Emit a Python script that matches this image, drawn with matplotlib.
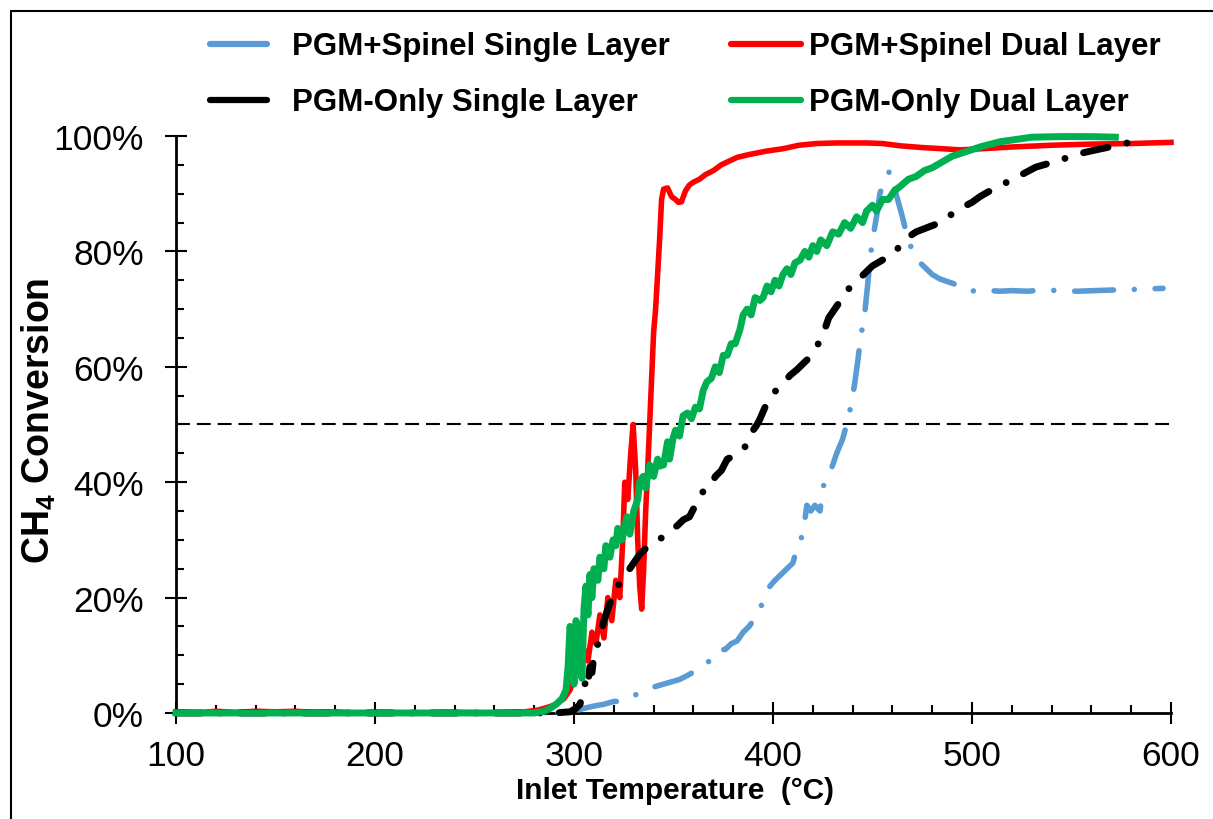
import numpy as np
import matplotlib.pyplot as plt
from matplotlib.lines import Line2D
from matplotlib.patches import Rectangle
from matplotlib.ticker import MultipleLocator, PercentFormatter

# PGM+Spinel Single Layer
blue_t = [100, 200, 295, 300, 305, 310, 315, 320, 323, 327, 330, 333, 337, 340, 345, 350, 353, 357,
          362, 366, 370, 373, 376, 379, 382, 385, 388, 391, 393.5, 396, 398.5, 401, 404, 407, 410, 412,
          415, 417, 419, 421, 423.6, 425, 427, 429, 432, 435, 437, 439, 441, 442.7, 444, 446, 447.5,
          448.7, 450, 452, 453.7, 456, 458.8, 461, 463, 465, 468, 471, 474, 477, 480, 484, 490, 495,
          499, 505, 514, 520, 528, 535, 545, 553, 561, 570, 580, 588, 596]
blue_y = [0, 0, 0, 0.3, 0.8, 1.2, 1.5, 2, 2, 2.5, 3, 3.5, 4, 4.5, 5, 5.5, 5.8, 6.5,
          7.5, 8.5, 9.5, 11, 11, 12, 12.5, 14, 15, 16.5, 18, 20.5, 22, 23, 24, 25, 26, 28.5,
          31, 36, 35, 36, 35, 39, 41, 42, 45, 47.5, 50, 53, 57, 61.3, 65, 69, 74,
          78.5, 82, 86, 90, 92.5, 94, 91, 88.5, 86, 81.8, 79.5, 78, 77, 76, 75.2, 74.5, 73.8,
          73.1, 73.3, 73.1, 73.2, 73.1, 73.3, 73.2, 73.1, 73.2, 73.3, 73.4, 73.5, 73.6]

# PGM+Spinel Dual Layer
red_t = [100, 110, 120, 130, 140, 150, 160, 170, 180, 190, 200, 220, 240, 260, 275, 282, 287, 291,
         295, 298, 300, 301.5, 303, 305, 307, 309, 311, 313, 315, 317, 319, 321, 323, 324.5, 325.5,
         327, 328.5, 329.7, 331, 332, 333, 334, 335, 336, 337, 338, 339, 340, 341, 342, 343, 344,
         345, 347, 349, 351, 352.5, 354, 356, 358, 360, 363, 366, 370, 374, 377, 382, 388, 397,
         405, 413, 422, 432, 447, 455, 464, 475, 485, 494, 505, 520, 540, 560, 580, 600]
red_y = [0.2, 0, 0.3, 0.1, 0.3, 0.2, 0.3, 0.1, 0.2, 0, 0.1, 0, 0.1, 0, 0.2, 0.5, 1, 1.5,
         2.5, 4, 6, 10, 8, 11, 9, 14, 12, 17, 13, 20, 16, 23, 20, 30, 40,
         37, 45, 50, 42, 30, 22, 18, 25, 35, 42, 50, 58, 66, 70, 76, 82, 89,
         90.8, 91, 89.5, 89, 88.5, 88.6, 90.5, 91.5, 92, 92.5, 93.3, 94, 95, 95.5, 96.3, 96.8, 97.4,
         97.8, 98.4, 98.7, 98.8, 98.8, 98.7, 98.3, 98.0, 97.8, 97.6, 97.8, 98.1, 98.4, 98.6, 98.7, 98.9]

# PGM-Only Single Layer
black_t = [100, 200, 290, 298, 301, 303, 305, 306, 307, 308, 309, 310, 312, 313, 315, 316, 318, 320,
           322, 324, 326, 328, 330, 333, 336, 340, 344.7, 348, 352, 355, 358, 361, 363, 365, 368,
           371, 374, 377, 380, 384, 387, 390, 392, 393.5, 396, 400, 403, 406, 408.5, 412, 415, 418,
           421, 423.6, 426, 428, 430, 433, 435, 438, 441, 444, 447, 450, 455, 460, 464, 468, 472,
           478, 484, 490, 495.5, 500, 504, 508, 514, 520, 526, 532, 538, 544, 550, 557, 565, 572, 578]
black_y = [0, 0, 0, 0.2, 0.8, 1.5, 4, 6, 5, 8, 7, 10, 12, 13, 16, 17, 19, 21,
           22, 23, 24, 25, 26, 27.5, 28.5, 29.5, 30.5, 31.5, 32.5, 33.5, 34, 36, 37, 38.5, 39,
           41, 42, 44, 44.5, 45.5, 46.5, 49, 50, 51, 53, 55.3, 56.5, 57.5, 58.5, 59.5, 60.5, 61.5,
           63, 64.5, 66.5, 68.5, 69.5, 71, 72.3, 73.5, 74.5, 75.5, 76.5, 77.5, 78.5, 79.5, 81, 82.5, 83.4,
           84.2, 85, 86.5, 87.7, 88.5, 89.5, 90.3, 91.3, 92.5, 93.5, 94.6, 95.2, 95.8, 96.5, 97.2, 97.8, 98.3, 98.8]

# PGM-Only Dual Layer
green_t = [100, 200, 280, 285, 288, 291, 294, 296, 297, 298, 299, 300, 301, 302, 303, 304, 305, 306,
           307, 308, 309, 310, 312, 313, 315, 316, 318, 319.6, 321, 322, 324, 326.6, 328, 330, 332,
           333, 334.7, 336, 338, 340, 342, 343, 345, 347, 348, 349.7, 351, 353, 354.8, 357, 359, 361,
           363, 365, 366.8, 369, 371, 373, 375, 377, 379, 381, 383.4, 385, 387, 389, 391, 393.5, 395,
           397, 399, 401, 403, 405, 407, 409, 411, 413.6, 416, 418, 420, 422, 424, 427, 430, 433,
           436, 439, 442, 445, 447, 450, 452, 455, 458, 461, 464, 468, 472, 476, 480, 485, 490, 497,
           505, 514, 522, 530, 545, 560, 572]
green_y = [0, 0, 0, 0.3, 0.8, 1.5, 2.5, 4, 8, 15, 12, 5, 16, 14, 8, 6, 18, 22,
           17, 24, 20, 25, 23, 27, 25, 29, 27, 30, 29, 32, 30, 34, 31, 35, 37,
           40, 41, 39, 43, 41, 44, 42.8, 43, 47, 44, 47.5, 49, 48, 51.5, 52, 51, 53,
           52.7, 56, 57.4, 58, 60, 59, 62, 62, 64, 64, 66.5, 69, 70, 69, 72, 71.5, 72,
           74, 73, 75, 74, 76, 77, 76, 78, 78.5, 80, 79, 81, 80, 82, 81, 83.4, 83,
           85, 84, 86, 85, 87, 88, 87, 89, 89, 90.5, 91.3, 92.5, 93, 94, 94.5, 95.5, 96.5, 97.3,
           98.2, 99, 99.4, 99.8, 99.9, 99.9, 99.8]

names = ['PGM+Spinel Single Layer', 'PGM+Spinel Dual Layer', 'PGM-Only Single Layer', 'PGM-Only Dual Layer']

plt.rcParams['font.family'] = 'Liberation Sans'
plt.rcParams['mathtext.default'] = 'regular'
plt.rcParams['lines.scale_dashes'] = False

leg_font = dict(family='Liberation Sans', weight='bold', size=22.5)

fig = plt.figure(figsize=(12.13, 8.2), dpi=100)
ax = fig.add_axes([0.1451, 0.1293, 0.8203, 0.7036])

# outer frame (right and bottom edges fall outside the picture)
fig.patches.append(Rectangle((11 / 1213, -0.05), 1.1, 1.0354, transform=fig.transFigure,
                             fill=False, lw=1.5, edgecolor='black'))

ax.axhline(0.5, color='black', lw=1.5, dashes=(10, 5), zorder=2)

ax.plot(blue_t, np.array(blue_y) / 100, color='#5B9BD5', lw=4, dashes=(28, 15, 0.01, 15),
        dash_capstyle='round', dash_joinstyle='round', clip_on=False, zorder=3)
ax.plot(red_t, np.array(red_y) / 100, color='#FF0000', lw=4, solid_joinstyle='round',
        clip_on=False, zorder=3)
ax.plot(black_t, np.array(black_y) / 100, color='black', lw=5, dashes=(18, 14, 0.01, 14),
        dash_capstyle='round', dash_joinstyle='round', clip_on=False, zorder=3)
ax.plot(green_t, np.array(green_y) / 100, color='#00B050', lw=5, solid_joinstyle='round',
        clip_on=False, zorder=3)

ax.set_xlim(100, 600)
ax.set_ylim(0, 1)
ax.xaxis.set_major_locator(MultipleLocator(100))
ax.xaxis.set_minor_locator(MultipleLocator(20))
ax.yaxis.set_major_locator(MultipleLocator(0.2))
ax.yaxis.set_minor_locator(MultipleLocator(0.05))
ax.yaxis.set_major_formatter(PercentFormatter(1.0, decimals=0))

for s in ['top', 'right']:
    ax.spines[s].set_visible(False)
for s in ['left', 'bottom']:
    ax.spines[s].set_linewidth(2)

ax.tick_params(which='major', direction='inout', length=16, width=1.5, labelsize=25.5)
ax.tick_params(axis='x', which='major', pad=11)
ax.tick_params(axis='y', which='major', pad=15)
ax.tick_params(which='minor', direction='in', length=6, width=1.5)

ax.set_xlabel('Inlet Temperature  (°C)', fontsize=21.5, fontweight='bold')
ax.xaxis.set_label_coords(0.5015, -0.109)
ax.set_ylabel('CH$_4$ Conversion', fontsize=27, fontweight='bold')
ax.yaxis.set_label_coords(-0.1186, 0.508)

cols = ['#5B9BD5', '#FF0000', 'black', '#00B050']
h = [Line2D([], [], color=c, lw=4.5, solid_capstyle='round') for c in cols]
fig.legend([h[0], h[2]], [names[0], names[2]], loc='upper left',
           bbox_to_anchor=(210 / 1213, 1 - 32.5 / 820), frameon=False, prop=leg_font,
           borderpad=0, borderaxespad=0, handlelength=1.82, handletextpad=0.8,
           labelspacing=0.83)
fig.legend([h[1], h[3]], [names[1], names[3]], loc='upper left',
           bbox_to_anchor=(731 / 1213, 1 - 32.5 / 820), frameon=False, prop=leg_font,
           borderpad=0, borderaxespad=0, handlelength=2.24, handletextpad=0.25,
           labelspacing=0.83)

fig.savefig('out.png', dpi=100)
